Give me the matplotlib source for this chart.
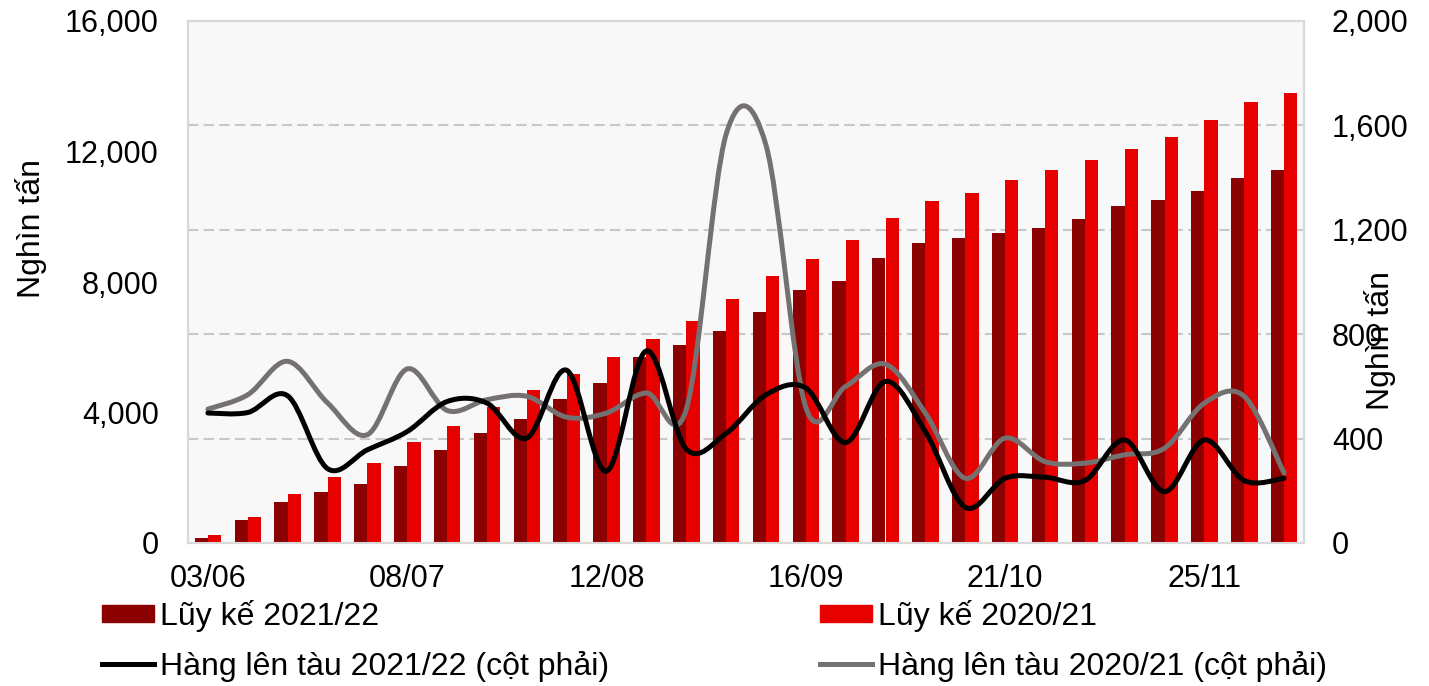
import matplotlib
matplotlib.use('Agg')
import matplotlib.pyplot as plt
from matplotlib.path import Path
from matplotlib.patches import PathPatch, Patch
from matplotlib.lines import Line2D
from matplotlib.ticker import FuncFormatter
import numpy as np

plt.rcParams['font.family'] = ['Liberation Sans', 'DejaVu Sans']

categories = ['03/06', '10/06', '17/06', '24/06', '01/07', '08/07', '15/07', '22/07', '29/07',
              '05/08', '12/08', '19/08', '26/08', '02/09', '09/09', '16/09', '23/09', '30/09',
              '07/10', '14/10', '21/10', '28/10', '04/11', '11/11', '18/11', '25/11', '02/12', '09/12']

cum_2122 = [150, 690, 1260, 1560, 1810, 2350, 2840, 3370, 3800, 4420, 4900, 5690, 6070, 6510,
            7090, 7740, 8030, 8730, 9210, 9360, 9500, 9670, 9920, 10340, 10500, 10780, 11180, 11420]
cum_2021 = [250, 810, 1500, 2020, 2440, 3090, 3600, 4160, 4700, 5180, 5690, 6250, 6790, 7490,
            8180, 8690, 9290, 9960, 10470, 10720, 11120, 11420, 11730, 12070, 12440, 12970, 13510, 13780]
ship_2122 = [498, 500, 564, 285, 357, 427, 542, 536, 402, 662, 275, 736, 360, 420, 568, 594,
             385, 619, 427, 137, 248, 252, 239, 395, 197, 395, 239, 248]
ship_2021 = [513, 568, 696, 537, 415, 667, 508, 549, 562, 482, 498, 575, 511, 1565, 1525, 520,
             600, 685, 498, 248, 402, 312, 306, 338, 363, 536, 562, 268]

left_ticks = [0, 4000, 8000, 12000, 16000]
right_ticks = [0, 400, 800, 1200, 1600, 2000]
label_every = 5

labels = ['Lũy kế 2021/22', 'Lũy kế 2020/21',
          'Hàng lên tàu 2021/22 (cột phải)', 'Hàng lên tàu 2020/21 (cột phải)']
axis_title = 'Nghìn tấn'
c_dark = '#8B0000'
c_red = '#E60000'
c_black = '#000000'
c_gray = '#767171'

W, H = 1429, 686
fig = plt.figure(figsize=(W / 100, H / 100), dpi=100)
ax = fig.add_axes([188 / W, 1 - 543 / H, (1304 - 188) / W, (543 - 21) / H])
ax2 = ax.twinx()

x = np.arange(len(categories))
bw = 1 / 3
ax.set_facecolor('#f8f8f8')
ax.bar(x - bw / 2, cum_2122, width=bw, color=c_dark, zorder=3)
ax.bar(x + bw / 2, cum_2021, width=bw, color=c_red, zorder=3)

ax.set_xlim(-0.5, len(categories) - 0.5)
ax.set_ylim(left_ticks[0], left_ticks[-1])
ax2.set_ylim(right_ticks[0], right_ticks[-1])
scale = left_ticks[-1] / right_ticks[-1]
for v in right_ticks[1:-1]:
    ax.axhline(v * scale, color='#c8c8c8', lw=1.5, ls=(0, (5, 2.5)), zorder=1)


def smooth_path(xs, ys):
    xs = np.asarray(xs, float)
    ys = np.asarray(ys, float)
    n = len(xs)
    verts = [(xs[0], ys[0])]
    codes = [Path.MOVETO]
    for i in range(n - 1):
        p0 = np.array([xs[max(i - 1, 0)], ys[max(i - 1, 0)]])
        p1 = np.array([xs[i], ys[i]])
        p2 = np.array([xs[i + 1], ys[i + 1]])
        p3 = np.array([xs[min(i + 2, n - 1)], ys[min(i + 2, n - 1)]])
        c1 = p1 + (p2 - p0) / 6
        c2 = p2 - (p3 - p1) / 6
        verts += [tuple(c1), tuple(c2), tuple(p2)]
        codes += [Path.CURVE4] * 3
    return Path(verts, codes)


ax2.add_patch(PathPatch(smooth_path(x, ship_2021), fill=False, edgecolor=c_gray, lw=3.6,
                        capstyle='round', joinstyle='round', zorder=4))
ax2.add_patch(PathPatch(smooth_path(x, ship_2122), fill=False, edgecolor=c_black, lw=3.6,
                        capstyle='round', joinstyle='round', zorder=5))

fs = 22
ax.set_yticks(left_ticks)
ax2.set_yticks(right_ticks)
fmt = FuncFormatter(lambda v, p: f'{int(v):,}')
ax.yaxis.set_major_formatter(fmt)
ax2.yaxis.set_major_formatter(fmt)
ax.set_xticks(x[::label_every])
ax.set_xticklabels(categories[::label_every])
ax.tick_params(axis='y', length=0, pad=21, labelsize=fs)
ax.tick_params(axis='x', length=0, pad=15, labelsize=fs)
ax2.tick_params(axis='y', length=0, pad=20, labelsize=fs)

for a in (ax, ax2):
    for s in a.spines.values():
        s.set_color('#d9d9d9')
        s.set_linewidth(1.5)

fig.text(31 / W, 1 - 229 / H, axis_title, fontsize=23, rotation=90, ha='center', va='center')
fig.text(1380 / W, 1 - 341 / H, axis_title, fontsize=23, rotation=90, ha='center', va='center')

handles = [Patch(color=c_dark), Line2D([], [], color=c_black, lw=3.6),
           Patch(color=c_red), Line2D([], [], color=c_gray, lw=3.6)]
hl = [labels[0], labels[2], labels[1], labels[3]]
lfs = 23
fig.legend(handles, hl, ncol=2, loc='upper left', bbox_to_anchor=(102 / W, 1 - 600 / H),
           frameon=False, fontsize=lfs, handlelength=1.63, handleheight=0.47,
           handletextpad=0.19, columnspacing=6.6, labelspacing=0.58,
           borderpad=0, borderaxespad=0)

fig.savefig('out.png', dpi=100)
